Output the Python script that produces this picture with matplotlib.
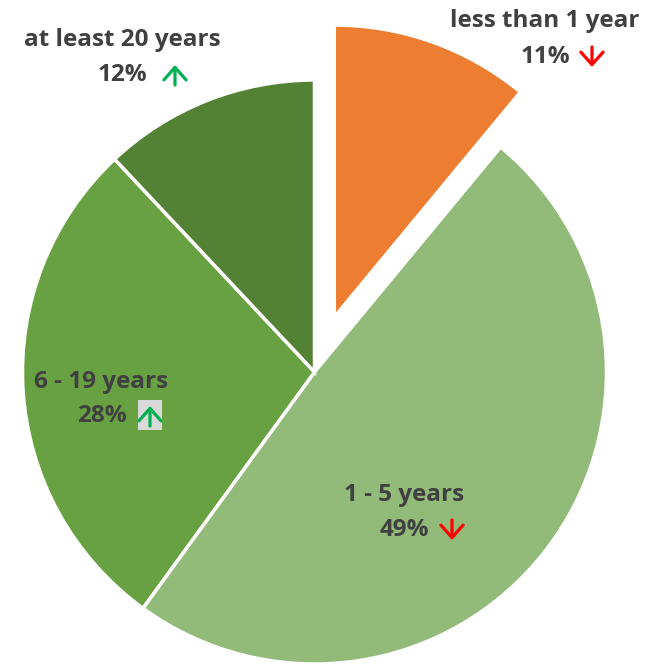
import matplotlib.pyplot as plt
from matplotlib.patches import Rectangle

categories = ['less than 1 year', '1 - 5 years', '6 - 19 years', 'at least 20 years']
shares = [11, 49, 28, 12]
trends = ['down', 'down', 'up', 'up']
colors = ['#ED7D31', '#92BB7A', '#68A142', '#548235']
explode = [0.2, 0, 0, 0]

# label anchor points in pixels (name line, then percent line)
name_pos = [(545, 21), (404, 495), (101, 382), (122, 40)]
pct_pos = [(545, 57), (404, 530), (102, 416), (122, 75)]
arrow_x = [592, 452, 150, 175]

W, H = 649, 666
cx, cy, R = 314.5, 372, 292


def to_data(px, py):
    return (px - cx) / R, (cy - py) / R


fig = plt.figure(figsize=(W / 100, H / 100), dpi=100)
ax = fig.add_axes([0, 0, 1, 1])
ax.pie(shares, colors=colors, explode=explode, startangle=90, counterclock=False,
       radius=1, center=(0, 0),
       wedgeprops=dict(edgecolor='white', linewidth=2.5))
ax.set_xlim(-cx / R, (W - cx) / R)
ax.set_ylim(-(H - cy) / R, cy / R)
ax.set_aspect('auto')
ax.axis('off')

txt = dict(fontfamily='Open Sans', fontweight='bold', fontsize=17.5, color='#404040',
           ha='center', va='center')
for i, name in enumerate(categories):
    x, y = to_data(*name_pos[i])
    ax.text(x, y, name, **txt)
    x, y = to_data(*pct_pos[i])
    ax.text(x, y, f'{shares[i]}%', **txt)

    up = trends[i] == 'up'
    py = pct_pos[i][1]
    if i == 2:
        # highlighted trend marker
        x0, y0 = to_data(arrow_x[i] - 12, py + 14)
        ax.add_patch(Rectangle((x0, y0), 24 / R, 30 / R, fc='#D9D9D9', ec='none', zorder=3))
    top = to_data(arrow_x[i], py - 10)
    bot = to_data(arrow_x[i], py + 10)
    tip, tail = (top, bot) if up else (bot, top)
    ax.annotate('', xy=tip, xytext=tail,
                arrowprops=dict(arrowstyle='->,head_length=0.45,head_width=0.4',
                                mutation_scale=20, lw=2.3, shrinkA=0, shrinkB=0,
                                color='#00B050' if up else '#FF0000'),
                zorder=4)

fig.savefig('out.png', dpi=100, facecolor='white')
